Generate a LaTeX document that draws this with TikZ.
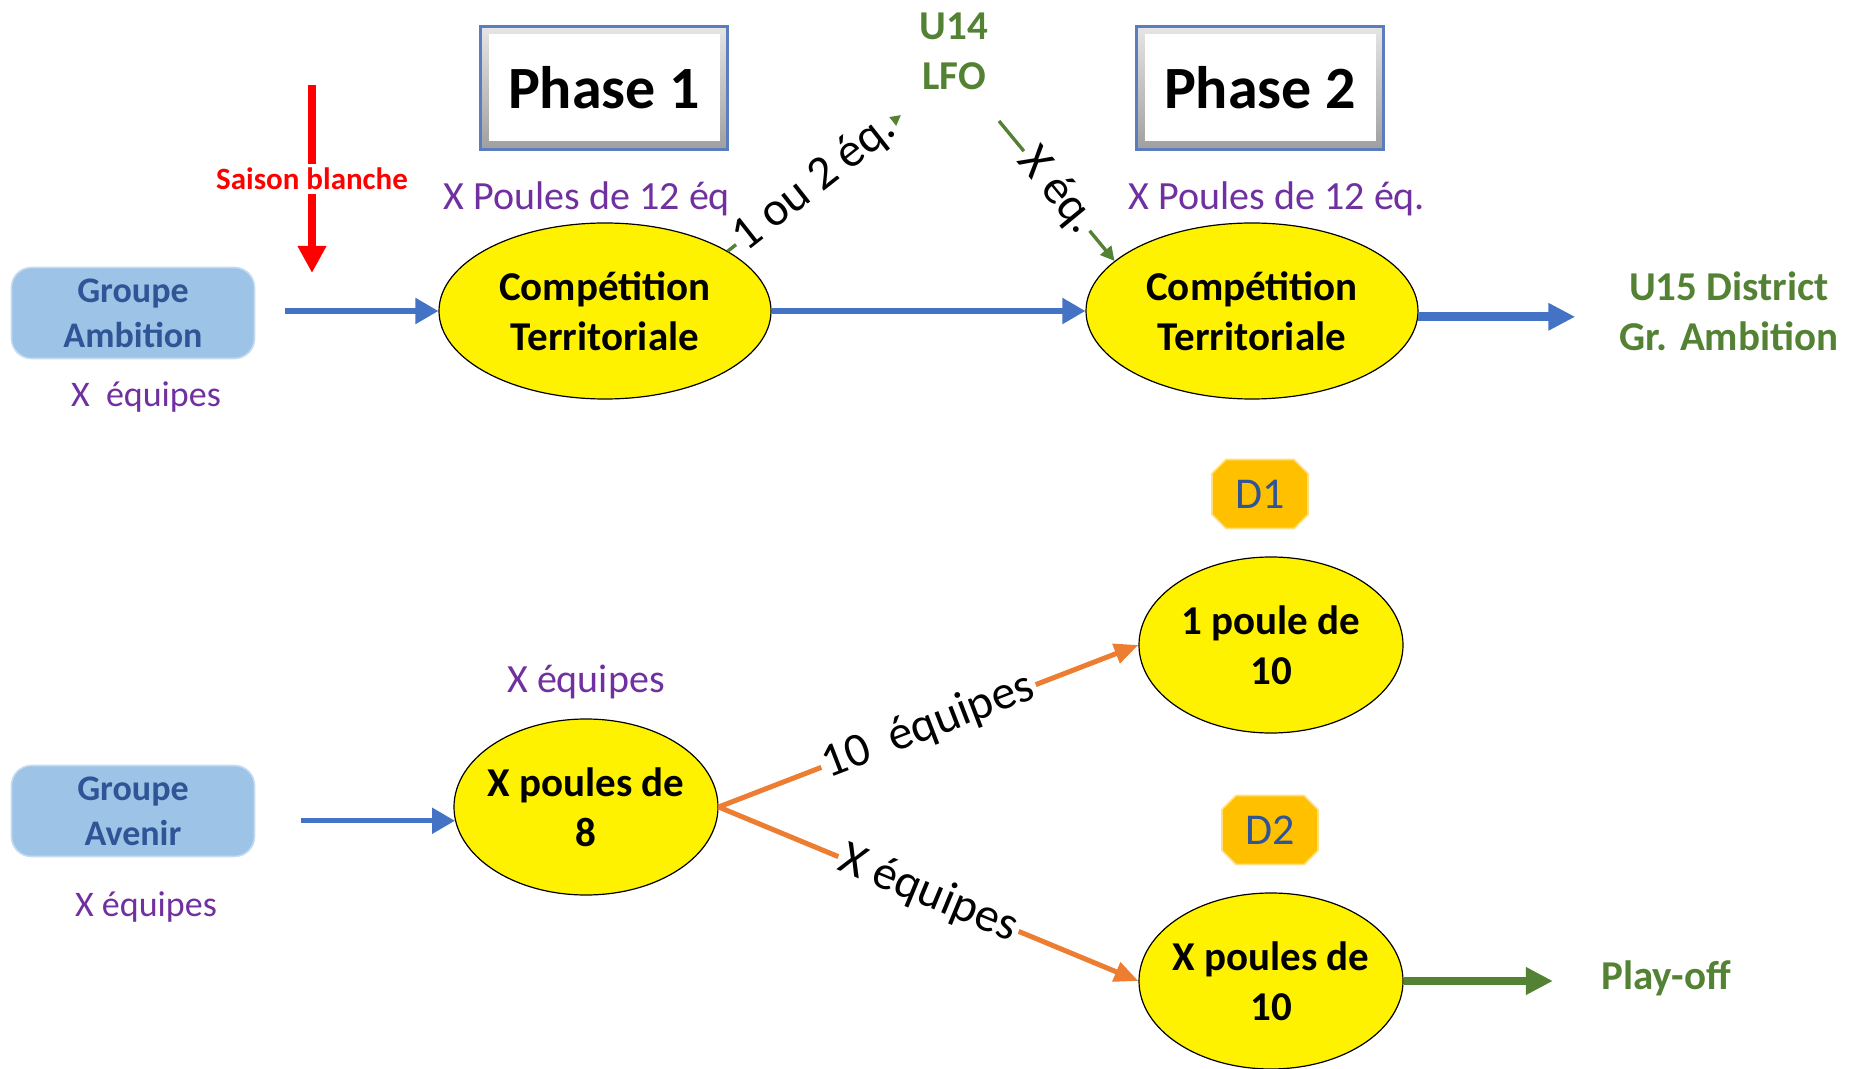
\documentclass[tikz,border=0pt]{standalone}
\usepackage{fontspec}
\setmainfont{Carlito}
\usetikzlibrary{arrows.meta,shapes.geometric,shapes.misc}

\definecolor{arrowblue}{HTML}{4472C4}
\definecolor{boxblue}{HTML}{9DC3E6}
\definecolor{textblue}{HTML}{2F5597}
\definecolor{phaseframe}{HTML}{5B7DBE}
\definecolor{lilac}{HTML}{7030A0}
\definecolor{leaf}{HTML}{548235}
\definecolor{tangerine}{HTML}{ED7D31}
\definecolor{amber}{HTML}{FFC000}
\newcommand{\fsz}[2]{\fontsize{#1pt}{#2pt}\selectfont}

\begin{document}
\begin{tikzpicture}[x=0.5pt,y=-0.5pt,
  every node/.style={inner sep=0pt,align=center},
  phasebox/.style={rectangle,draw=phaseframe,line width=1.4pt,fill=white,minimum width=123.5pt,minimum height=61.5pt,
    font=\bfseries\fsz{30}{36},
    path picture={\fill[top color=gray!20,bottom color=gray!75] (path picture bounding box.south west) rectangle (path picture bounding box.north east);
      \fill[white] ([shift={(4pt,4pt)}]path picture bounding box.south west) rectangle ([shift={(-4pt,-4pt)}]path picture bounding box.north east);}},
  grpbox/.style={rectangle,rounded corners=10pt,fill=boxblue,draw=boxblue!60!white,line width=0.8pt,minimum width=121.5pt,minimum height=45.5pt,
    text=textblue,font=\bfseries\fsz{18}{22.5}},
  poule/.style={ellipse,draw,line width=0.6pt,fill=yellow,minimum width=#1,minimum height=88pt,inner xsep=-4pt,font=\bfseries\fsz{20.5}{25}},
  poule/.default=132pt,
  divbox/.style={chamfered rectangle,chamfered rectangle xsep=3.5pt,chamfered rectangle ysep=3.5pt,fill=amber,draw=amber!50!white,line width=0.8pt,
    minimum width=48pt,minimum height=34.5pt,text=textblue,font=\fsz{22}{26}},
  note/.style={text=lilac,font=\fsz{20}{24}},
  smallnote/.style={text=lilac,font=\fsz{18}{22}},
  greentext/.style={text=leaf,font=\bfseries\fsz{20.5}{25}},
  onarrow/.style={fill=white,sloped,inner sep=1.5pt,font=\fsz{24}{28}},
  flow/.style={draw=arrowblue,line width=2.6pt,-{Triangle[length=11.5pt,width=12.5pt]}},
  bigflow/.style={line width=4.5pt,-{Triangle[length=13.5pt,width=13pt]}},
  branch/.style={draw=tangerine,line width=2.5pt,-{Triangle[length=12pt,width=10pt]}},
  transfer/.style={draw=leaf,line width=1.7pt,-{Triangle[length=7pt,width=7pt]}}
  ]
  \useasboundingbox (0,0) rectangle (1859,1069);

  % phase 1 / phase 2
  \node[phasebox] (ph1) at (604,88) {Phase 1};
  \node[phasebox] (ph2) at (1260,88) {Phase 2};
  \node[greentext] (u14) at (954,51) {U14\\LFO};

  \node[grpbox] (amb) at (133,313) {Groupe\\Ambition};
  \node[smallnote] (ambeq) at (146,397) {X\ \ équipes};
  \node[poule=166pt] (ct1) at (605,311) {Compétition\\Territoriale};
  \node[poule=166pt] (ct2) at (1252,311) {Compétition\\Territoriale};
  \node[note] (pl1) at (587,199) {X Poules de 12 éq};
  \node[note] (pl2) at (1277,199) {X Poules de 12 éq.};
  \node[greentext] (u15) at (1729,311) {U15 District\\Gr. Ambition};

  \coordinate (sbtop) at (312,85);
  \coordinate (sbbot) at (312,273);
  \coordinate (u14foot) at (901,115);
  \coordinate (lfofoot) at (999,121);

  \draw[draw=red,line width=4pt,-{Triangle[length=13.5pt,width=13.5pt]}] (sbtop) -- node[name=sb,fill=white,inner sep=2pt,text=red,font=\bfseries\fsz{15.5}{18}]{Saison blanche} (sbbot);
  \draw[flow,shorten <=15pt] (amb.east |- ct1.west) -- (ct1.west);
  \draw[flow] (ct1.east) -- (ct2.west);
  \draw[flow,bigflow,shorten >=22pt] (ct2.-2) -- (ct2.-2 -| u15.west);
  \draw[transfer] (ct1.26) -- node[onarrow,name=lb1]{1 ou 2 éq.} (u14foot);
  \draw[transfer] (lfofoot) -- node[onarrow,name=lb2]{X éq.} (ct2.160);

  % groupe avenir
  \node[grpbox] (av) at (133,811) {Groupe\\Avenir};
  \node[smallnote] (aveq) at (146,907) {X équipes};
  \node[poule] (p8) at (586,807) {X poules de\\8};
  \node[note] (p8eq) at (586,682) {X équipes};
  \node[divbox] (d1) at (1260,494) {D1};
  \node[poule] (p10a) at (1271,645) {1 poule de\\10};
  \node[divbox] (d2) at (1270,830) {D2};
  \node[poule] (p10b) at (1271,981) {X poules de\\10};
  \node[greentext] (po) at (1666,978) {Play-off};

  \draw[flow,shorten <=23pt] (av.east |- p8.186) -- (p8.186);
  \draw[branch] (p8.east) -- node[onarrow,name=lb3]{10\ \ équipes} (p10a.west);
  \draw[branch] (p8.east) -- node[onarrow,name=lb4]{X équipes} (p10b.west);
  \draw[transfer,bigflow,line width=4pt,shorten >=24pt] (p10b.east) -- (p10b.east -| po.west);
\end{tikzpicture}
\end{document}
